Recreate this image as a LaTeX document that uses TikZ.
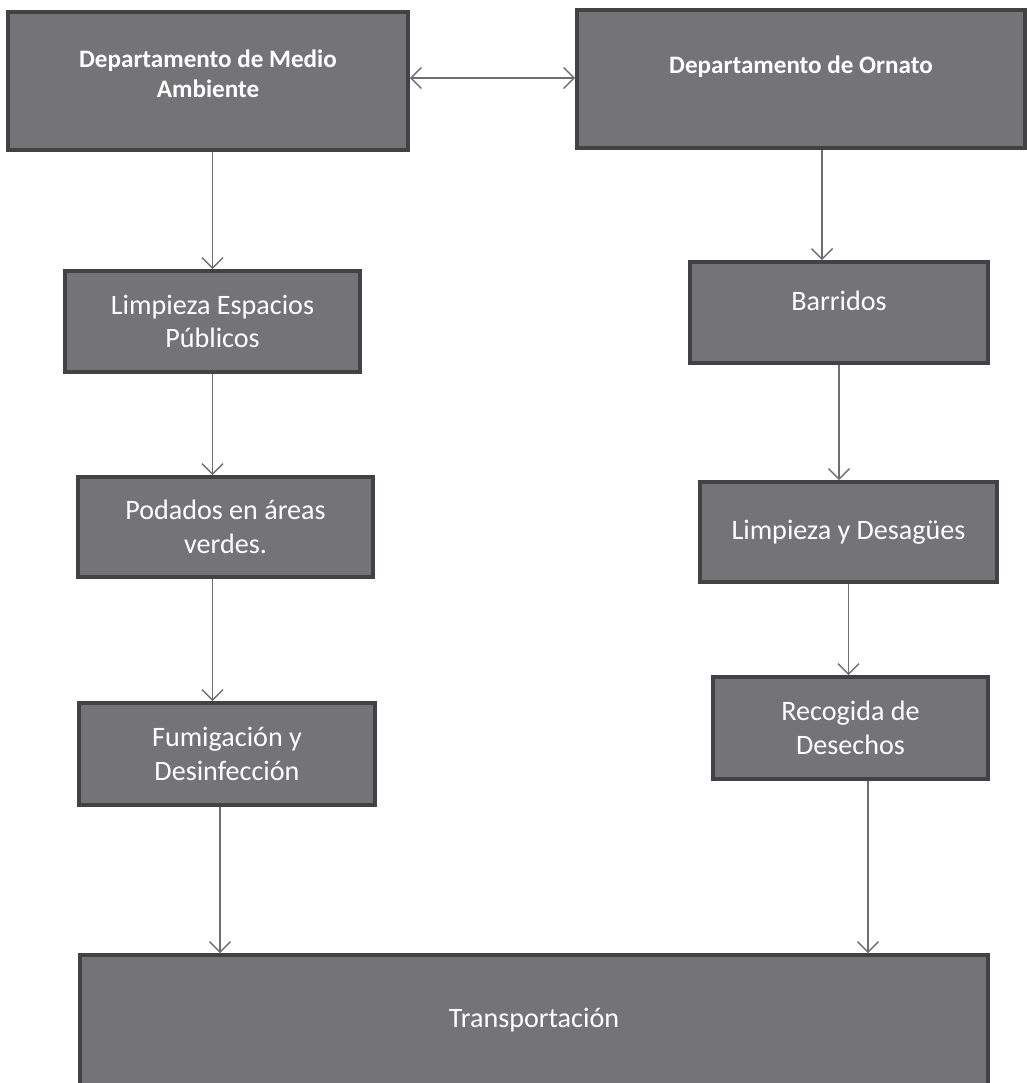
\documentclass[tikz,border=0pt]{standalone}
\usepackage{fontspec}
\setmainfont{Carlito}
\usepackage{xcolor}
\usepackage{tikz}
\usetikzlibrary{arrows.meta, calc}

\definecolor{boxfill}{RGB}{116,116,119}
\definecolor{boxline}{RGB}{66,66,68}
\definecolor{arrowgray}{RGB}{110,110,112}

\tikzset{
	box/.style = {draw = boxline, fill = boxfill, line width = 2.2pt, text = white, align = center, inner sep = 0pt, font = \fontsize{16}{19}\selectfont},
	deptbox/.style = {box, font = \fontsize{14.3}{17}\selectfont\bfseries},
	flow/.style = {draw = arrowgray, line width = 0.8pt, -{Straight Barb[length = 6pt, width = 12pt]}},
	dflow/.style = {draw = arrowgray, line width = 0.8pt, {Straight Barb[length = 6pt, width = 12pt]}-{Straight Barb[length = 6pt, width = 12pt]}}
}

\begin{document}
\begin{tikzpicture}[x = 0.02cm, y = -0.02cm]
				\useasboundingbox (0,0) rectangle (1027,1083);

				\begin{scope}
					\node [deptbox, minimum width = 8cm, minimum height = 2.76cm, text depth = 0.3cm] (dma) at (208,81) {Departamento de Medio\\Ambiente};
					\node [deptbox, minimum width = 8.96cm, minimum height = 2.76cm, text depth = 0.56cm] (dor) at (801,79) {Departamento de Ornato};
				\end{scope}

				\begin{scope}
					\node [box, minimum width = 5.9cm, minimum height = 2.02cm] (lep) at (212.5,321.5) {Limpieza Espacios\\Públicos};
					\node [box, minimum width = 5.9cm, minimum height = 2cm] (pod) at (225.5,527) {Podados en áreas\\verdes.};
					\node [box, minimum width = 5.92cm, minimum height = 2.04cm] (fum) at (227,754) {Fumigación y\\Desinfección};
				\end{scope}

				\begin{scope}
					\node [box, minimum width = 5.96cm, minimum height = 2.02cm, text depth = 0.48cm] (bar) at (839,312.5) {Barridos};
					\node [box, minimum width = 5.94cm, minimum height = 2cm] (lyd) at (848.5,532) {Limpieza y Desagües};
					\node [box, minimum width = 5.5cm, minimum height = 2.04cm] (rec) at (850.5,728) {Recogida de\\Desechos};
				\end{scope}

				\node [box, minimum width = 18.16cm, minimum height = 2.7cm, text depth = 0.2cm] (tra) at (534,1022.5) {Transportación};

				\draw [dflow] ([yshift = 0.6mm]dma.east) -- ([yshift = 0.6mm]dma.east -| dor.west);

				\draw [flow] (dma.south -| lep.north) -- (lep.north);
				\draw [flow] (lep.south) -- (lep.south |- pod.north);
				\draw [flow] (pod.south -| lep.south) -- (fum.north -| lep.south);
				\draw [flow] ([xshift = -1.4mm]fum.south) -- ([xshift = -1.4mm]fum.south |- tra.north);

				\draw [flow] ([xshift = -3.4mm]bar.north |- dor.south) -- ([xshift = -3.4mm]bar.north);
				\draw [flow] (bar.south) -- (bar.south |- lyd.north);
				\draw [flow] (lyd.south) -- (lyd.south |- rec.north);
				\draw [flow] ([xshift = 3.5mm]rec.south) -- ([xshift = 3.5mm]rec.south |- tra.north);
			\end{tikzpicture}
\end{document}
